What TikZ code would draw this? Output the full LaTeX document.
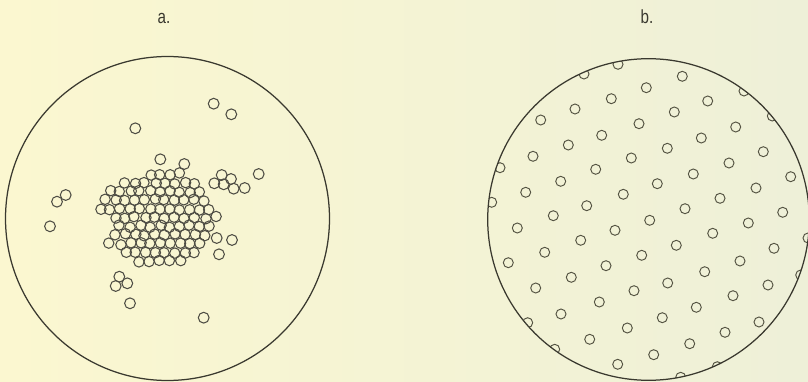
\documentclass[tikz,border=0pt]{standalone}
\usepackage{fontspec}
\newfontfamily\platefont[FakeStretch=0.8]{Liberation Sans}
\definecolor{PaperCream}{HTML}{FBF7D0}
\definecolor{PaperWarm}{HTML}{FEF8CF}
\definecolor{PaperGreen}{HTML}{EEF0D8}
\definecolor{InkDark}{HTML}{3A392F}
\definecolor{InkSoft}{HTML}{545342}
\tikzset{
  dish/.style={draw=InkDark, line width=1.25pt},
  clumped/.style={draw=InkDark!90, line width=1.05pt},
  spaced/.style={draw=InkSoft, line width=0.95pt},
  platelabel/.style={font=\platefont\fontsize{19}{19}\selectfont, text=InkDark, inner sep=0pt}
}

\begin{document}
\begin{tikzpicture}[x=1pt, y=-1pt]
  \useasboundingbox (0,0) rectangle (808,382);
  \shade[left color=PaperCream, middle color=PaperWarm, right color=PaperGreen]
    (0,0) rectangle (808,382);

  \node[platelabel] (labA) at (164,18) {a.};
  \node[platelabel] (labB) at (647,17) {b.};

  % a. clumped distribution
  \coordinate (dishA) at (167.5,218.5);
  \draw[dish] (dishA) circle (162pt);
  \pgfmathsetseed{41}
  \foreach \y/\xa/\xb in {174/150/180, 182.7/125/195, 191.4/110/200,
      200.1/105/205, 208.8/100/210, 217.5/115/215, 226.2/120/210,
      234.9/115/205, 243.6/110/200, 252.3/125/195, 261/140/180}{
    \pgfmathtruncatemacro{\xn}{\xa+10}
    \foreach \x in {\xa,\xn,...,\xb}{
      \draw[clumped] ({\x+1.3*rand},{\y+1.3*rand}) circle (5.2pt);
    }
  }
  \foreach \x/\y in {213.7/103.7, 231.3/114.3, 135.3/128.3, 160.3/159.3,
      184.3/164, 258.7/174, 221.7/175, 231/179, 214.3/183.3, 223.7/184.3,
      233.7/188.7, 244.7/188, 65.7/195, 57/201.7, 50/226.3, 232/240,
      216.7/238, 219/254.3, 119.3/276.7, 115.7/286, 127.3/283.3,
      130/303.3, 203.7/317.7}
    \draw[clumped] (\x,\y) circle (5.4pt);

  % b. even spacing
  \coordinate (dishB) at (648.5,219.5);
  \begin{scope}
    \clip (dishB) circle (160.8pt);
    \foreach \x/\y in {618/64.3, 584/74, 682.3/76.3, 646.3/87.7, 744/91,
        611.3/98.7, 707.7/101, 575/109, 674.3/112, 772.3/116, 540.7/120,
        639/123.7, 735.7/127, 601.7/135.3, 701.3/138, 568.3/145,
        667.3/148.3, 763.3/151.7, 533/156.3, 631.3/158, 729/163, 500/167.7,
        595.7/169.3, 693.3/174, 790.7/176.7, 560.7/181.3, 657.3/183.7,
        756/188, 525.7/192.3, 623.3/194.3, 720/198.3, 491.7/202.3,
        586.7/205.7, 685/208.7, 782.7/212.3, 553.3/215.7, 649.7/220.3,
        748.3/223, 517.3/228, 615/230.3, 712.7/233.3, 808/238, 580.7/240.3,
        676.3/245.3, 774/248.3, 544.7/252.3, 641.7/255.3, 740/261,
        508.3/262.7, 606/265.7, 704.7/271.7, 571.3/277.3, 667.7/283,
        800.7/275, 768/285, 535.7/288, 634/290.7, 733/295.7, 599.3/302,
        696.3/307.3, 527.7/322.7, 561/314, 662.3/317.7, 759/322,
        627.3/328, 725/332.3, 589.7/339.3, 689.7/343.7, 554.7/349.3,
        653.7/354.7, 617.7/364.3, 717.3/366.7, 680.7/377.3}
      \draw[spaced] (\x,\y) circle (5pt);
  \end{scope}
  \draw[dish] (dishB) circle (160.8pt);
\end{tikzpicture}
\end{document}
